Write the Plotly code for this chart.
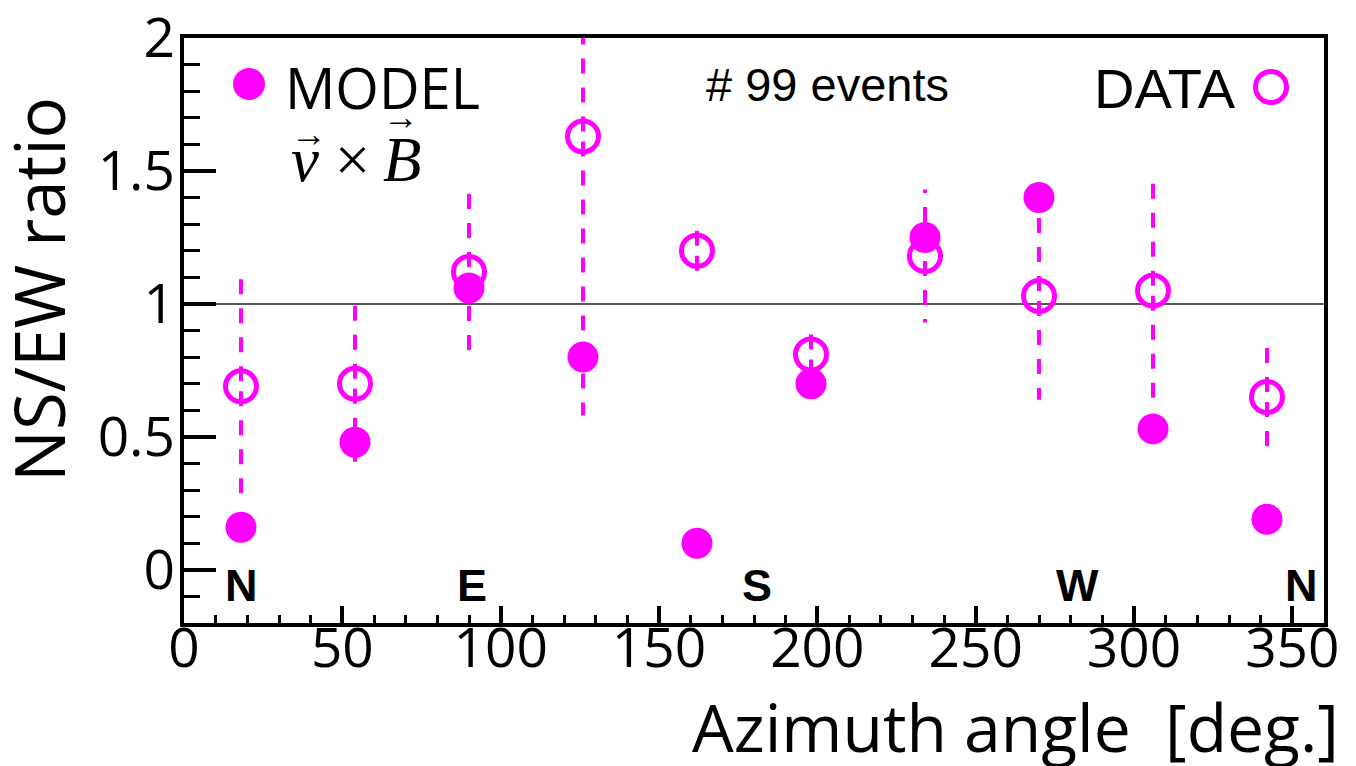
import plotly.graph_objects as go

# ---- data ----
azimuth = [18, 54, 90, 126, 162, 198, 234, 270, 306, 342]
model_ratio = [0.16, 0.48, 1.06, 0.80, 0.10, 0.70, 1.25, 1.40, 0.53, 0.19]
data_ratio = [0.69, 0.70, 1.12, 1.63, 1.20, 0.81, 1.18, 1.03, 1.05, 0.65]
data_err = [0.44, 0.33, 0.34, 1.05, 0.09, 0.10, 0.25, 0.39, 0.45, 0.21]
compass_labels = ["N", "E", "S", "W", "N"]
compass_x = [18, 91, 181, 282, 353]
compass_y = -0.06
x_ticks = [0, 50, 100, 150, 200, 250, 300, 350]
y_ticks = [0, 0.5, 1, 1.5, 2]
y_ticktext = ["0", "0.5", "1", "1.5", "2"]
reference_ratio = 1.0

MAG = "#FF00FF"
W, H = 1356, 766
L, R, T, B = 184, 32, 38, 143
PW, PH = W - L - R, H - T - B


def px(x):
    return (x - L) / PW


def py(y):
    return (T + PH - y) / PH


# error bar segments built from the data (drawn outward from the point)
ex, ey = [], []
for xv, dv, ev in zip(azimuth, data_ratio, data_err):
    ex += [xv, xv, None, xv, xv, None]
    ey += [dv, dv + ev, None, dv, dv - ev, None]

fig = go.Figure()
fig.add_trace(go.Scatter(x=ex, y=ey, mode="lines", showlegend=False,
                         line=dict(color=MAG, width=4, dash="0px,5px,15px,9px"),
                         hoverinfo="skip"))
fig.add_trace(go.Scatter(x=azimuth, y=model_ratio, mode="markers", name="MODEL",
                         showlegend=False,
                         marker=dict(symbol="circle", size=31, color=MAG, line=dict(width=0))))
fig.add_trace(go.Scatter(x=azimuth, y=data_ratio, mode="markers", name="DATA",
                         showlegend=False,
                         marker=dict(symbol="circle-open", size=31, color=MAG,
                                     line=dict(width=5, color=MAG))))

fig.add_shape(type="line", xref="paper", yref="y", x0=0, x1=1,
              y0=reference_ratio, y1=reference_ratio,
              line=dict(color="#222222", width=1.5), layer="below")

# legend keys
fig.add_shape(type="circle", xref="paper", yref="paper", xsizemode="pixel", ysizemode="pixel",
              xanchor=px(249), yanchor=py(84), x0=-16, x1=16, y0=-16, y1=16,
              fillcolor=MAG, line=dict(width=0))
fig.add_shape(type="circle", xref="paper", yref="paper", xsizemode="pixel", ysizemode="pixel",
              xanchor=px(1271), yanchor=py(87), x0=-15.5, x1=15.5, y0=-15.5, y1=15.5,
              fillcolor="rgba(0,0,0,0)", line=dict(width=5, color=MAG))

SANS = "Open Sans"
ann = []
ann.append(dict(text="MODEL", x=px(283), y=py(87), xanchor="left", yanchor="middle",
                font=dict(family=SANS, size=56, color="black")))
ann.append(dict(text="<i>v</i> ×\u2009<i>B</i>", x=px(289), y=py(160), xanchor="left", yanchor="middle",
                font=dict(family="Liberation Serif", size=63, color="black")))
ann.append(dict(text="→", x=px(309), y=py(134), xanchor="center", yanchor="middle",
                font=dict(family="Liberation Serif", size=36, color="black")))
ann.append(dict(text="→", x=px(401), y=py(117), xanchor="center", yanchor="middle",
                font=dict(family="Liberation Serif", size=36, color="black")))
ann.append(dict(text="# 99 events", x=px(704), y=py(84), xanchor="left", yanchor="middle",
                font=dict(family="Liberation Sans", size=47, color="black")))
ann.append(dict(text="DATA", x=px(1238), y=py(88), xanchor="right", yanchor="middle",
                font=dict(family="Liberation Sans", size=56, color="black")))
for lab, cx in zip(compass_labels, compass_x):
    ann.append(dict(text="<b>" + lab + "</b>", x=cx, y=compass_y, xref="x", yref="y",
                    xanchor="center", yanchor="middle",
                    font=dict(family="Liberation Sans", size=45, color="black")))
ann.append(dict(text="NS/EW ratio", x=px(38), y=py(290), textangle=-90,
                xanchor="center", yanchor="middle",
                font=dict(family=SANS, size=69, color="black")))
ann.append(dict(text="Azimuth angle \u00a0[deg.]", x=px(1341), y=py(726),
                xanchor="right", yanchor="middle",
                font=dict(family=SANS, size=66, color="black")))
for a in ann:
    a.setdefault("xref", "paper")
    a.setdefault("yref", "paper")
    a["showarrow"] = False

fig.update_layout(
    width=W, height=H, margin=dict(l=L, r=R, t=T, b=B, autoexpand=False),
    paper_bgcolor="white", plot_bgcolor="white",
    annotations=ann, showlegend=False,
    xaxis=dict(range=[0, 360], tickmode="array", tickvals=x_ticks,
               ticks="inside", ticklen=17, tickwidth=3.5, tickcolor="black",
               minor=dict(ticks="inside", ticklen=8, tickwidth=3, dtick=10, tick0=0, tickcolor="black"),
               showline=True, linewidth=4, linecolor="black", mirror=True,
               showgrid=False, zeroline=False, ticklabelstandoff=-26,
               ticklabeloverflow="allow", automargin=False,
               tickfont=dict(family=SANS, size=55, color="black")),
    yaxis=dict(range=[-0.2, 2.0001], tickmode="array", tickvals=y_ticks, ticktext=y_ticktext,
               ticks="inside", ticklen=32, tickwidth=3.5, tickcolor="black",
               minor=dict(ticks="inside", ticklen=16, tickwidth=3, dtick=0.1, tick0=0, tickcolor="black"),
               showline=True, linewidth=4, linecolor="black", mirror=True,
               showgrid=False, zeroline=False, ticklabelstandoff=-6,
               ticklabeloverflow="allow", automargin=False,
               tickfont=dict(family=SANS, size=55, color="black")),
)

fig.write_html("out.html")
